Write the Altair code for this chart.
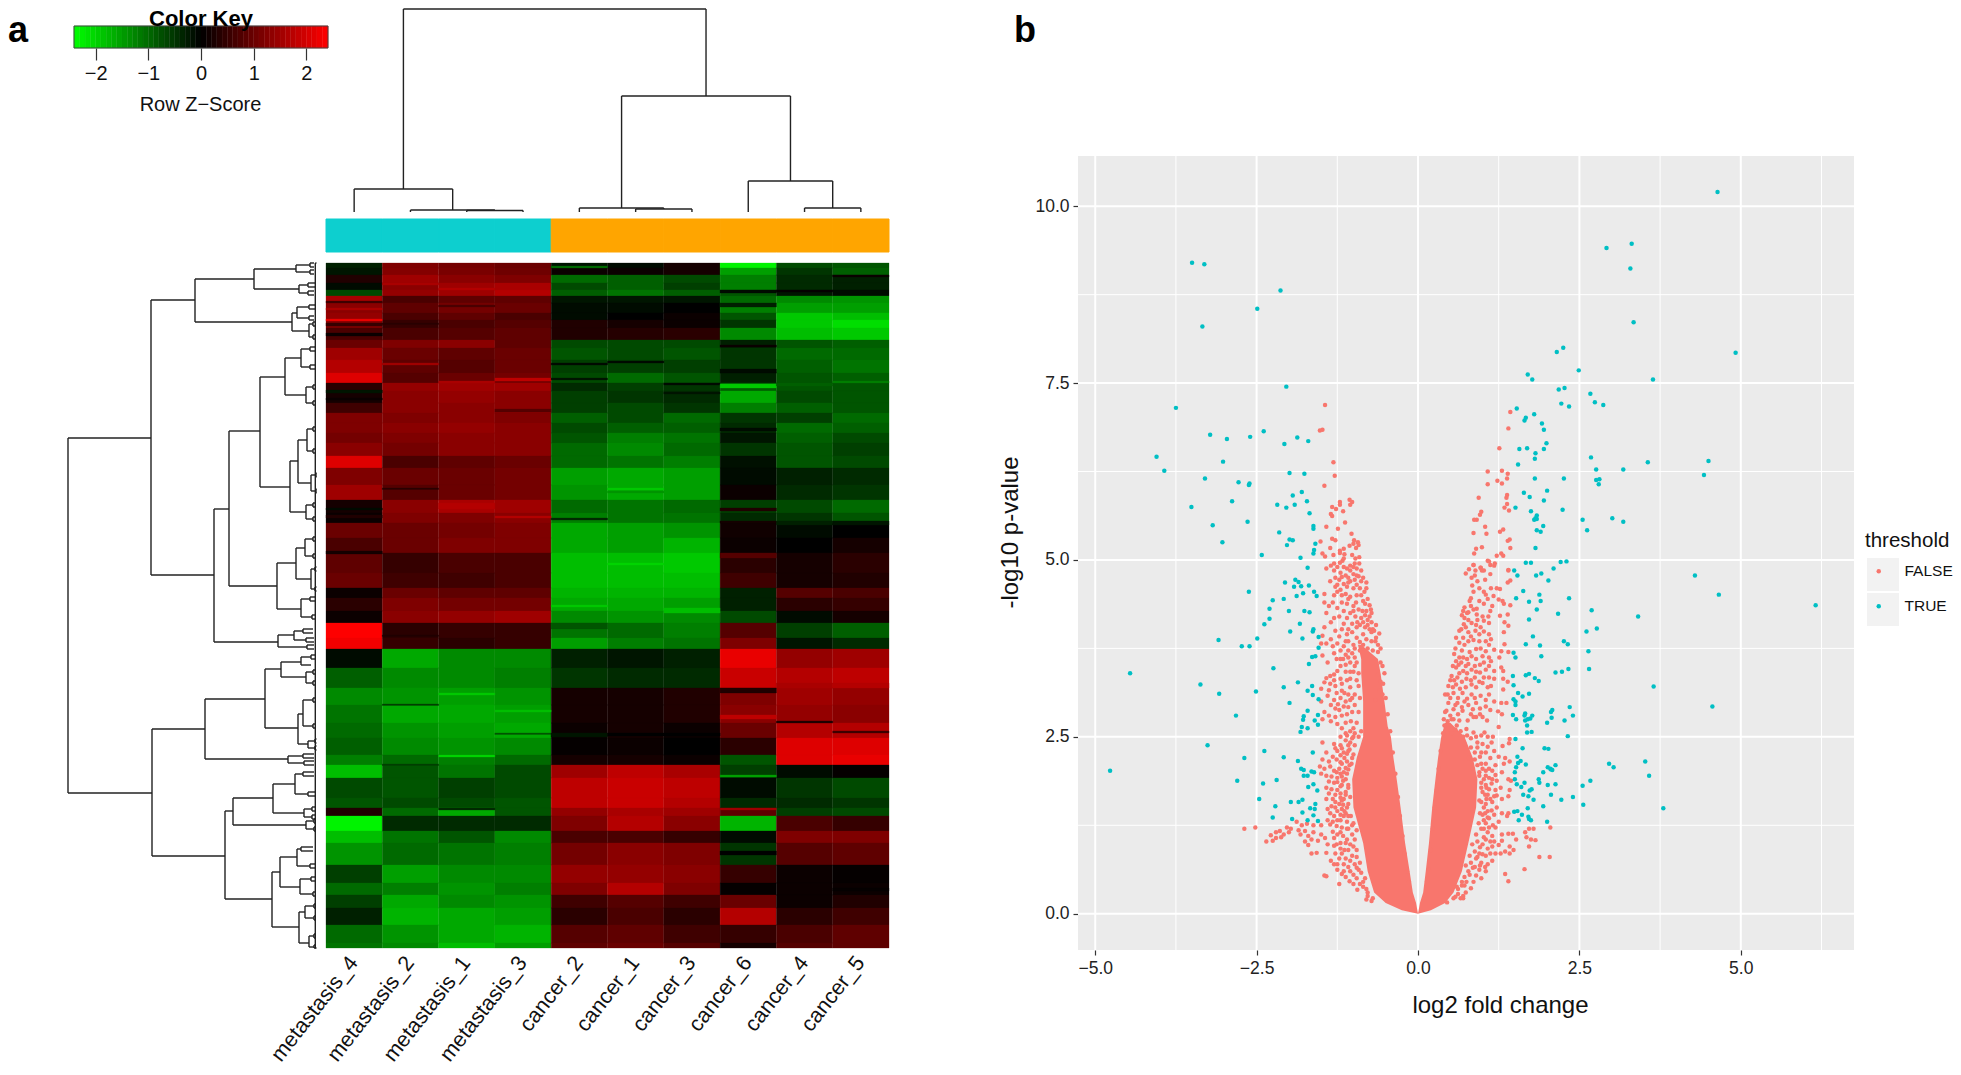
import altair as alt
import pandas as pd

FONT = "Liberation Sans"
SAMPLES = ["metastasis_4","metastasis_2","metastasis_1","metastasis_3","cancer_2","cancer_1","cancer_3","cancer_6","cancer_4","cancer_5"]

ROW_EDGES = [0,5,12,20,27,33,40,50,57,65,77,85,97,110,120,128,140,150,160,170,180,193,205,222,237,250,260,275,290,310,325,335,348,360,375,386,405,425,442,460,475,492,502,515,535,545,553,568,580,602,620,632,645,662,680,685]
HEAT = [
[-.3,1.2,1.1,1.0,-.2,-.1,.2,-2.3,-.7,-.8],
[-.2,1.25,1.15,1.05,.1,.1,.2,-1.5,-.5,-.9],
[.3,1.5,1.3,1.2,-1.0,-.9,-.7,-1.2,-.4,-.3],
[-.1,1.3,1.5,1.6,-.7,-.9,-.6,-1.2,-.4,-.3],
[-.7,1.4,1.5,1.7,-.9,-1.1,-.9,-.8,-.2,-.1],
[1.6,.7,.9,.9,-.2,-.2,-.2,-1.0,-1.3,-1.4],
[1.3,.9,1.1,1.0,-.1,-.1,.0,-1.2,-1.5,-1.5],
[1.4,.7,.9,.7,-.1,.0,.1,-.8,-1.9,-1.8],
[1.2,.5,.7,.8,.3,.2,.1,-.5,-1.9,-2.1],
[.7,.7,.8,.9,.3,.35,.4,-1.3,-1.8,-1.9],
[1.0,1.2,1.3,.9,-.7,-.7,-.7,-.3,-.8,-.9],
[1.5,1.0,.9,1.0,-.8,-.7,-.8,-.5,-1.0,-1.0],
[1.7,.9,.8,1.0,-.6,-.6,-.6,-.5,-.9,-1.1],
[2.1,.8,1.0,1.1,-.7,-1.0,-.8,-.3,-.8,-.9],
[.4,1.4,1.5,1.5,-.4,-.6,-.5,-.9,-.8,-.8],
[.2,1.3,1.4,1.3,-.6,-.5,-.4,-1.6,-.7,-.8],
[.6,1.3,1.3,1.3,-.6,-.7,-.5,-1.2,-.9,-.8],
[1.2,1.2,1.3,1.2,-.9,-.7,-1.0,-.5,-.6,-1.0],
[1.2,1.3,1.4,1.3,-.7,-.9,-.9,-.4,-1.0,-.9],
[1.1,1.2,1.3,1.3,-.8,-1.2,-1.1,-.2,-.9,-.7],
[1.3,1.1,1.3,1.3,-1.0,-1.3,-1.0,-.5,-.8,-.6],
[2.1,.7,.9,1.0,-1.0,-1.1,-1.2,-.15,-.8,-.7],
[1.2,1.0,1.0,1.1,-1.5,-1.6,-1.5,-.1,-.3,-.4],
[1.5,.8,1.0,1.1,-1.4,-1.6,-1.5,.1,-.4,-.5],
[.2,1.3,1.6,1.5,-1.0,-1.1,-1.0,-.6,-.7,-1.0],
[.1,1.2,1.2,1.3,-1.2,-1.1,-1.1,-.4,-.5,-.8],
[1.0,1.0,1.1,1.2,-1.6,-1.5,-1.4,.15,-.1,-.0],
[.7,1.0,1.2,1.2,-1.6,-1.5,-1.7,.1,.0,.2],
[.9,.5,.7,.7,-1.8,-1.8,-1.9,.4,.2,.4],
[1.0,.6,.6,.7,-1.8,-1.8,-1.8,.6,.2,.3],
[.1,1.0,.9,.9,-1.7,-1.7,-1.7,-.3,.8,.7],
[.4,1.2,1.1,1.1,-1.6,-1.6,-1.5,-.3,.4,.5],
[.1,1.3,1.4,1.5,-1.3,-1.4,-1.3,-.7,-.1,.2],
[2.4,.4,.5,.5,-1.1,-1.0,-1.2,.8,-.6,-.9],
[2.3,.5,.4,.5,-1.5,-1.2,-1.1,1.2,-.2,-.4],
[-.1,-1.6,-1.3,-1.3,-.3,-.2,-.3,2.2,1.4,1.5],
[-.9,-1.3,-1.3,-1.2,-.5,-.4,-.4,1.9,1.7,1.8],
[-1.3,-1.4,-1.5,-1.4,.2,.2,.3,1.2,1.5,1.4],
[-1.1,-1.6,-1.6,-1.5,.2,.2,.3,1.3,1.4,1.3],
[-1.0,-1.4,-1.5,-1.6,.1,.2,.1,1.0,1.7,1.7],
[-.9,-1.3,-1.4,-1.3,.05,.1,.0,.4,2.1,2.1],
[-1.2,-1.0,-1.2,-1.0,.2,.2,.1,-.8,2.1,2.2],
[-1.8,-.8,-1.1,-.7,1.5,1.8,1.6,-.6,-.1,.05],
[-.7,-.8,-.6,-.7,1.8,1.9,1.8,-.1,-.5,-.7],
[-.8,-.7,-.7,-.8,1.8,1.9,1.7,-.4,-.4,-.5],
[.3,-1.0,-1.6,-.8,1.4,1.6,1.5,.9,-.6,-.7],
[-2.3,-.4,-.4,-.4,1.2,1.7,1.3,-1.7,.7,.5],
[-1.8,-1.1,-.8,-1.3,.7,.7,.5,-.1,1.2,1.2],
[-1.4,-1.0,-1.1,-1.2,1.1,1.3,1.2,-.5,.8,.9],
[-.6,-1.5,-1.3,-1.3,1.4,1.4,1.3,.5,.1,.05],
[-1.0,-1.2,-1.4,-1.2,1.2,1.7,1.2,.05,.1,.1],
[-.6,-1.6,-1.3,-1.4,.6,.8,.6,1.0,.1,.3],
[-.3,-1.7,-1.6,-1.5,.4,.7,.4,1.7,.4,.6],
[-1.0,-1.4,-1.6,-1.7,.8,.9,.6,.5,.7,.9],
[-1.1,-1.3,-1.8,-1.5,.9,1.0,.8,.2,.8,.9],
]
STRIPES = [
(0,38,40,.6),(0,45,47,1.6),(0,56,58,2.2),(0,60,63,.5),(0,70,73,.1),(0,127,130,-.2),(0,135,137,.1),(0,245,247,-.1),(0,252,255,.3),(0,288,291,.2),
(1,20,22,1.6),(1,60,61.5,.4),(1,100,102,1.5),(1,225,226.5,.4),(1,372,373.5,.3),(1,441,442.5,-.6),(1,501,502.5,-.6),
(2,25,27,1.7),(2,42,44,.7),(2,118,120,1.6),(2,240,246,1.7),(2,430,432,-1.9),(2,492,494,-2.0),(2,545,547,-.4),
(3,115,118,1.8),(3,146,149,.8),(3,253,255,1.7),(3,447,449,-1.8),(3,470,471.5,-.8),
(4,3,5,-1.0),(4,100,102,-.1),(4,115,117,-.2),(4,255,257,-.4),(4,342,344,-1.9),(4,360,366,-.8),(4,470,474,-.2),
(5,98,100,-.1),(5,225,227,-1.9),(5,228,230,-1.4),(5,300,302,-2.0),(5,470,473,-.0),
(6,120,122,-.1),(6,129,131,-.2),(6,470,473,.0),(6,345,350,-1.8),
(7,27,30,-.1),(7,40,44,-.3),(7,82,84,.1),(7,106,110,-.1),(7,121,125,-1.9),(7,165,168,-.1),(7,245,248,.3),(7,258,260,.2),(7,290,295,.8),(7,425,430,.3),(7,452,456,1.8),(7,512,514,-1.5),(7,545,547,1.5),(7,588,592,.0),
(8,27,29,.05),(8,120,123,-.9),(8,258,262,-.3),(8,420,425,1.6),(8,458,460,.3),
(9,12,14,.1),(9,118,120,-1.2),(9,258,262,-.2),(9,420,425,1.7),(9,468,470,.6),(9,625,628,.05),
]
KEY_EDGES = [-2.41,-2.3,-2.2,-2.1,-2.0,-1.9,-1.8,-1.7,-1.6,-1.5,-1.4,-1.3,-1.2,-1.1,-1.0,-.9,-.8,-.7,-.6,-.5,-.4,-.3,-.2,-.1,0,.1,.2,.3,.4,.5,.6,.7,.8,.9,1.0,1.1,1.2,1.3,1.4,1.5,1.6,1.7,1.8,1.9,2.0,2.1,2.2,2.3,2.41]

COL_FORKS = [
(1.375,6.75,203,23,116),
(0.5,2.25,23,0,2),
(1.5,3,2,0,1.5),
(2.5,3.5,1.5,0,0),
(5.25,8.25,116,4,31),
(4.5,6,4,0,3),
(5.5,6.5,3,0,0),
(7.5,9,31,0,4),
(8.5,9.5,4,0,0),
]
ROW_FORKS = [
(0,175,530,83,84),(83,37,312,127,146),(127,16,59,186,224),(186,6,26,228,231),(228,2,9,242,242),(231,22,30,240,240),
(224,50,68,229,241),(229,44,55,241,241),(241,61,74,245,245),(146,246,379,161,210),(161,168,323,192,209),
(192,114,224,217,222),(217,95,132,233,238),(233,86,104,242,242),(238,124,140,245,245),(222,198,249,230,238),
(230,177,220,239,243),(239,166,188,245,245),(238,242,256,245,245),(243,212,228,248,248),(209,300,346,228,233),
(228,285,316,237,243),(237,276,293,245,245),(243,306,326,247,247),(233,336,354,242,244),(210,372,384,226,239),
(226,368,377,235,238),(84,466,593,137,157),(137,436,496,197,220),(197,406,465,213,230),(213,399,414,233,238),
(233,394,402,243,243),(238,409,420,245,245),(230,451,481,235,240),(235,437,463,245,245),(240,478,485,247,247),
(220,493,500,235,236),(157,548,636,165,204),(165,535,562,205,238),(205,521,550,227,236),(227,511,531,235,240),
(236,546,554,244,244),(238,558,566,246,246),(204,609,664,212,231),(212,594,624,229,232),(229,586,603,233,242),
(232,616,631,243,245),(231,649,680,237,241),(237,643,655,246,246),(241,673,684,246,246),
(242,0,4,246,246),(242,7,11,246,246),(240,20,24,247,247),(240,28,32,246,246),(241,42,46,247,247),(241,53,57,246,246),
(245,59,63,247,247),(245,72,76,247,247),(242,84,88,247,247),(242,102,106,247,247),(245,122,126,247,247),(245,138,142,247,247),
(245,164,168,247,247),(245,186,190,247,247),(245,240,244,247,247),(245,254,258,247,247),(248,210,214,248.5,248.5),(248,226,230,248.5,248.5),
(245,274,278,247,247),(245,291,295,247,247),(247,304,308,248.5,248.5),(247,324,328,248.5,248.5),(242,334,338,247,247),(244,352,356,247,247),
(235,366,370,245,245),(238,375,379,246,246),(239,382,386,246,246),(243,392,396,247,247),(245,407,411,247,247),(245,418,422,247,247),
(245,435,439,247,247),(245,461,465,247,247),(247,476,480,248.5,248.5),(247,483,487,248.5,248.5),(235,491,495,246,246),(236,498,502,246,246),
(235,509,513,246,246),(240,529,533,247,247),(244,544,548,247,247),(244,552,556,247,247),(246,556,560,248,248),(246,564,568,248,248),
(233,584,588,245,245),(242,601,605,247,247),(243,614,618,247,247),(245,629,633,247,247),(246,641,645,248,248),(246,653,657,248,248),
(246,671,675,248,248),(246,682,685,248,248),(247.3,0,685,248.5,248.5),
]

TEAL = [
(-3.50,9.20),(-3.31,9.18),(-2.13,8.81),(-2.49,8.55),(-3.34,8.30),(-2.04,7.45),(-3.75,7.15),(-3.22,6.77),(-2.96,6.71),(-2.60,6.74),(-2.39,6.82),(-2.07,6.64),(-1.87,6.73),(-1.70,6.68),(-4.05,6.46),(-3.93,6.26),(-3.02,6.39),(-1.99,6.23),(-1.76,6.22),(-3.30,6.15),(-2.78,6.10),(-2.61,6.08),(-2.62,6.06),(-1.94,5.91),(-1.80,5.96),(-2.88,5.83),(-1.72,5.83),(-3.51,5.75),(-2.18,5.78),(-2.04,5.74),(-1.91,5.78),(-1.68,5.66),(-3.18,5.49),(-2.64,5.54),(-2.15,5.39),(-1.62,5.48),(-1.62,5.44),(-1.99,5.29),(-1.94,5.28),(-3.03,5.25),(-1.59,5.23),(-2.03,5.21),(-1.61,5.14),(-1.62,5.09),(-2.42,5.07),(-1.82,5.03),(-1.71,4.89),
(-1.90,4.72),(-1.85,4.69),(-2.06,4.68),(-1.92,4.62),(-1.81,4.63),(-1.69,4.64),(-2.62,4.55),(-1.61,4.55),(-1.78,4.53),(-1.88,4.49),(-1.57,4.49),(-2.25,4.43),(-2.08,4.45),(-2.30,4.31),(-2.00,4.28),(-1.76,4.28),(-1.68,4.26),(-2.30,4.17),(-2.38,4.09),(-1.83,4.10),(-1.98,3.99),(-1.62,4.02),(-1.63,3.99),(-1.54,3.91),(-2.49,3.89),(-3.09,3.87),(-1.79,3.89),(-2.73,3.78),(-2.61,3.78),(-1.54,3.76),(-1.59,3.64),(-1.64,3.63),(-1.69,3.53),(-2.24,3.47),(-4.46,3.40),(-3.37,3.24),(-1.86,3.27),(-2.08,3.20),(-1.64,3.22),(-1.71,3.15),(-3.08,3.11),(-2.51,3.14),(-1.63,3.09),(-1.54,3.03),(-1.99,2.98),(-1.71,2.87),(-2.82,2.80),(-1.77,2.79),(-1.55,2.81),(-1.78,2.74),(-1.60,2.73),(-1.55,2.67),(-1.80,2.64),(-1.71,2.62),(-1.82,2.57),(-3.26,2.38),(-2.38,2.30),(-1.63,2.28),(-2.69,2.20),(-2.08,2.21),(-1.86,2.16),(-1.81,2.05),(-1.77,2.03),(-1.65,2.01),(-1.61,2.00),(-4.77,2.02),(-1.77,1.95),(-1.71,1.95),(-2.80,1.88),(-2.19,1.89),(-2.40,1.84),(-1.62,1.83),(-1.70,1.79),(-1.56,1.74),(-2.46,1.62),(-1.97,1.58),(-1.85,1.58),(-1.79,1.61),(-2.21,1.52),(-1.59,1.55),(-1.67,1.49),(-1.60,1.48),(-1.79,1.43),(-1.62,1.39),(-2.25,1.36),(-1.95,1.34),(-1.71,1.32),(-1.55,1.31),
(4.64,10.20),(3.31,9.47),(2.92,9.41),(3.29,9.12),(3.34,8.36),(4.92,7.93),(2.25,8.00),(2.15,7.94),(2.49,7.68),(1.70,7.62),(1.77,7.55),(3.64,7.55),(2.18,7.41),(2.27,7.43),(2.67,7.35),(2.74,7.23),(2.87,7.19),(2.22,7.21),(2.34,7.17),(1.53,7.14),(1.80,7.06),(1.67,7.01),(1.65,6.97),(1.92,6.93),(1.95,6.84),(1.99,6.65),(1.95,6.57),(1.69,6.58),(1.57,6.57),(1.82,6.51),(1.81,6.43),(1.55,6.35),(2.68,6.45),(3.56,6.38),(4.50,6.40),(2.76,6.28),(3.18,6.28),(4.43,6.20),(1.81,6.15),(2.26,6.15),(2.76,6.13),(2.81,6.14),(2.80,6.07),(2.00,5.98),(1.64,5.95),(1.73,5.89),(1.95,5.84),(1.51,5.74),(2.24,5.71),(1.75,5.69),(1.84,5.63),(1.82,5.59),(1.80,5.57),(1.84,5.58),(2.55,5.57),(3.01,5.59),(3.18,5.54),(1.94,5.48),(1.84,5.42),(1.90,5.40),(2.62,5.42),(1.82,5.17),(1.67,4.96),(1.75,4.96),(2.21,4.97),(2.30,4.98),(2.10,4.88),
(1.49,4.85),(1.54,4.78),(1.83,4.78),(1.91,4.81),(2.02,4.71),(4.29,4.78),(4.66,4.51),(1.63,4.56),(1.88,4.51),(2.34,4.46),(1.52,4.46),(1.72,4.41),(1.90,4.42),(1.84,4.30),(2.69,4.29),(2.17,4.24),(6.16,4.36),(3.41,4.20),(1.72,4.16),(2.77,4.03),(2.61,3.99),(1.78,3.92),(2.26,3.85),(2.32,3.81),(1.67,3.81),(1.89,3.79),(2.64,3.71),(1.48,3.69),(1.51,3.62),(1.91,3.64),(2.33,3.46),(2.65,3.46),(2.13,3.41),(2.23,3.42),(1.67,3.37),(1.72,3.39),(1.47,3.36),(1.81,3.33),(1.87,3.29),(1.48,3.23),(3.65,3.21),(1.55,3.12),(1.72,3.11),(1.62,3.07),(1.48,3.03),(1.51,3.00),(1.51,2.95),(4.56,2.93),(2.35,2.92),(2.08,2.88),(2.06,2.85),(2.40,2.80),(1.47,2.81),(1.66,2.83),(1.77,2.80),(1.65,2.80),(1.74,2.76),(1.70,2.75),(1.66,2.73),(1.52,2.75),(2.07,2.77),(2.27,2.73),(2.00,2.70),(1.69,2.66),(1.69,2.56),(1.76,2.57),(2.32,2.51),(1.51,2.47),(1.62,2.34),(1.96,2.34),(2.02,2.33),(1.54,2.22),(1.59,2.16),(1.55,2.13),(3.52,2.15),(2.96,2.12),(3.03,2.07),(1.67,2.11),(2.13,2.10),(1.52,2.07),(2.01,2.07),(2.05,2.05),(2.08,2.03),(2.06,2.04),(1.50,2.00),(1.94,2.00),(3.58,1.95),(1.87,1.90),(1.50,1.90),(2.67,1.88),(1.53,1.83),(1.65,1.85),(1.88,1.85),(2.01,1.82),(2.13,1.83),(2.55,1.81),(1.60,1.79),(1.76,1.76),(1.73,1.74),(1.63,1.68),(1.71,1.66),(2.06,1.68),(2.40,1.65),(1.79,1.61),(2.22,1.61),(2.56,1.54),(1.94,1.52),(1.70,1.49),(3.80,1.49),(1.49,1.44),(1.54,1.45),(1.61,1.40),(1.71,1.37),(1.72,1.34),(1.75,1.32),(1.56,1.32),(2.00,1.30),
]
RED_LEFT = [
(-1.44,7.19),(-1.52,6.83),(-1.48,6.84),(-1.31,6.38),(-1.29,6.19),(-1.45,6.05),(-1.06,5.85),(-1.02,5.82),(-1.05,5.78),(-1.21,5.82),(-1.21,5.78),(-1.33,5.75),(-1.27,5.72),(-1.16,5.69),(-1.35,5.65),(-1.33,5.62),(-1.13,5.53),(-1.42,5.47),(-1.24,5.44),(-1.03,5.37),(-1.33,5.30),(-1.28,5.28),(-1.51,5.26),(-.99,5.28),(-.93,5.25),(-1.00,5.23),(-.92,5.21),(-1.36,5.17),(-1.15,5.16),(-1.21,5.13),(-1.06,5.20),(-.96,5.17),(-1.48,5.09),(-1.44,5.05),(-1.31,5.07),(-1.21,5.10),(-1.14,5.08),(-1.02,5.07),(-.91,5.04),(-.97,5.02),(-1.15,5.02),(-1.17,4.99),(-1.21,4.96),(-1.30,4.95),(-1.35,4.92),(-1.05,4.92),(-.98,4.95),(-.91,4.95),
(-1.42,4.88),(-1.30,4.85),(-1.15,4.9),(-1.05,4.85),(-.95,4.88),(-1.2,4.82),(-1.12,4.78),(-1.0,4.8),(-.92,4.77),(-1.36,4.7),(-1.22,4.72),(-1.15,4.66),(-1.05,4.7),(-.98,4.72),(-.88,4.7),(-.8,4.68),(-1.28,4.62),(-1.2,4.58),(-1.1,4.62),(-1.0,4.6),(-.9,4.6),(-.83,4.55),(-1.45,4.52),(-1.3,4.5),(-1.18,4.5),(-1.05,4.48),
(-.95,4.5),(-.85,4.42),(-1.45,4.4),(-1.38,4.35),(-1.25,4.32),(-1.1,4.38),(-1.0,4.35),(-.92,4.3),(-.8,4.28),(-.73,4.3),(-1.42,4.25),(-1.22,4.2),(-1.05,4.25),(-.97,4.2),(-.88,4.18),(-.78,4.15),(-1.35,4.12),(-1.15,4.1),(-1.02,4.1),(-.9,4.08),(-.82,4.05),(-.7,4.02),(-1.45,4.05),(-1.28,4.0),
(-1.48,3.93),(-1.35,3.88),(-1.22,3.92),(-1.1,3.95),(-1.02,3.98),(-.95,3.9),(-.85,3.95),(-.72,3.98),(-.65,3.9),(-1.5,3.82),(-1.42,3.82),(-1.25,3.82),(-1.12,3.85),(-1.0,3.8),(-.62,3.8),(-.58,3.75),(-1.2,3.72),(-1.08,3.72),(-1.02,3.68),(-.98,3.62),(-1.26,3.6),(-1.16,3.6),(-1.05,3.55),(-1.48,3.65),(-1.12,3.52),(-.98,3.5),(-1.0,3.42),(-1.2,3.5),(-1.4,3.55),(-.55,3.5),(-.52,3.4),
(-1.25,3.43),(-1.3,3.38),(-1.36,3.36),(-1.42,3.33),(-1.3,3.3),(-1.2,3.32),(-1.45,3.27),(-1.36,3.25),(-1.28,3.22),(-1.18,3.25),(-1.1,3.3),(-1.05,3.2),(-1.5,3.18),(-1.38,3.16),(-1.26,3.12),(-1.18,3.15),(-1.08,3.1),(-1.02,3.05),(-1.5,3.0),(-1.12,3.0),(-1.15,2.93),(-1.35,2.95),(-1.28,2.9),(-1.22,2.88),(-1.08,2.92),(-1.45,2.85),(-1.38,2.8),(-1.28,2.78),(-1.18,2.8),(-1.1,2.82),(-1.48,2.75),(-1.35,2.72),(-1.25,2.68),(-1.12,2.7),(-1.04,2.72),(-1.18,2.62),(-1.12,2.55),(-1.05,2.58),(-1.0,2.62),(-.95,2.7),(-.92,2.85),(-.98,3.1),
(-1.48,2.42),(-1.3,2.4),(-1.2,2.38),(-1.12,2.45),(-1.05,2.42),(-1.0,2.5),(-1.42,2.28),(-1.25,2.3),(-1.15,2.28),(-1.06,2.32),(-1.0,2.25),(-1.48,2.18),(-1.38,2.15),(-1.26,2.18),(-1.18,2.12),(-1.1,2.15),(-1.03,2.12),(-1.52,2.08),(-1.45,2.05),(-1.36,2.08),(-1.3,2.02),(-1.22,2.05),(-1.15,2.0),(-1.08,2.04),(-1.5,1.98),(-1.42,1.95),(-1.25,1.92),(-1.12,1.9),(-1.38,1.87),(-1.3,1.85),(-1.18,1.82),(-1.08,1.82),(-1.42,1.78),(-1.25,1.75),(-1.12,1.72),(-1.38,1.7),(-1.15,1.62),(-1.05,1.65),(-1.32,1.62),(-1.42,1.62),(-1.28,1.58),(-1.22,1.55),(-1.34,1.52),(-1.4,1.48),(-1.25,1.45),(-1.18,1.48),(-1.1,1.5),(-1.15,1.38),(-1.3,1.38),(-1.4,1.32),(-1.25,1.32),(-1.08,1.38),
(-2.69,1.2),(-2.52,1.22),(-1.5,1.25),(-1.62,1.25),(-1.72,1.27),(-1.8,1.25),(-1.88,1.3),(-1.97,1.2),(-2.03,1.22),(-2.14,1.17),(-2.2,1.15),(-2.28,1.11),(-2.08,1.12),(-2.0,1.15),(-2.12,1.08),(-2.2,1.07),(-2.35,1.02),(-2.25,1.03),(-1.85,1.18),(-1.75,1.17),(-1.82,1.12),(-1.7,1.1),(-1.62,1.15),(-1.5,1.12),(-1.44,1.07),(-1.3,1.07),(-1.2,1.15),(-1.1,1.2),(-1.02,1.25),(-1.75,1.02),(-1.7,.97),(-1.65,1.05),(-1.55,1.03),(-1.4,.98),(-1.3,.96),(-1.2,1.0),(-1.1,1.05),(-1.65,.85),(-1.57,.86),(-1.42,.86),(-1.28,.85),(-1.18,.85),(-1.08,.9),(-1.0,.95),(-1.35,.75),(-1.22,.78),(-1.3,.7),(-1.15,.7),(-1.05,.75),(-.95,.8),(-1.25,.62),(-1.15,.6),(-1.05,.6),(-.95,.65),(-1.45,.54),(-1.42,.53),(-1.22,.42),(-.85,.45),(-.95,.5),(-.8,.35),(-.78,.25),(-.8,.2),(-.72,.18),
(-.7,.22),(-.78,.3),(-.85,.38),(-.9,.42),(-.82,.5),(-.88,.58),(-.92,.62),(-.98,.7),(-.9,.72),(-1.02,.82),(-.95,.9),(-1.05,.98),(-.98,1.05),(-1.02,1.12),(-1.08,1.2),(-.95,1.18),(-1.0,1.28),(-1.1,1.3),(-1.04,1.38),(-1.14,1.45),(-1.08,1.55),(-1.18,1.6),(-1.12,1.68),(-1.2,1.7),(-1.08,1.78),(-1.16,1.88),(-1.1,1.98),(-1.2,1.98),(-1.06,2.1),(-1.14,2.2),(-1.02,2.2),(-1.08,2.3),(-.98,2.38),(-1.02,2.48),(-.92,2.5),(-.88,2.58),
(-.55,3.1),(-.6,3.15),(-.66,3.02),(-.58,3.28),(-.62,3.38),(-.92,3.22),(-.95,3.3),(-.9,3.05),(-.92,3.4),(-.95,3.55),(-.9,3.72),(-.85,3.8),(-.78,3.75),(-.7,3.72),(-.72,3.85),(-.8,3.88),(-.9,3.84),(-.98,3.75),(-1.08,3.85),(-1.15,3.78),(-1.32,3.78),(-1.3,3.68),(-1.12,3.66),(-1.08,3.62),(-1.2,3.6),(-1.05,3.42),(-1.12,3.42),(-1.05,3.32),(-1.14,3.12),(-1.2,3.05),(-1.05,3.02),(-1.4,3.08),(-1.3,3.02),(-1.24,2.96),(-.98,2.95),(-1.02,2.85),
(-.6,3.96),(-.68,4.0),(-.75,4.02),(-.65,4.08),(-.72,4.12),(-.78,4.08),(-.85,4.12),(-.95,4.05),(-1.08,4.02),(-1.18,4.02),(-.75,4.2),(-.82,4.22),(-.94,4.12),(-1.1,4.18),(-1.3,4.18),(-.72,4.25),(-.86,4.28),(-1.0,4.28),(-1.15,4.28),(-.75,4.36),(-.82,4.38),(-.96,4.4),(-1.08,4.45),(-1.18,4.4),(-1.32,4.4),(-.78,4.45),(-.88,4.5),(-1.12,4.52),(-1.25,4.55),(-.8,4.6),(-.95,4.65),(-1.08,4.68),(-1.25,4.65),(-.85,4.75),(-.95,4.78),(-1.08,4.75),(-1.18,4.76),(-1.28,4.75),(-.88,4.85),(-1.0,4.9),(-1.1,4.88),(-1.25,4.9),
(-.94,.34),(-1.0,.42),(-1.06,.46),(-1.12,.52),(-1.0,.55),(-1.08,.66),(-1.18,.56),(-1.12,.78),(-1.25,.7),(-1.14,.9),(-1.2,.92),(-1.26,.98),(-1.12,1.0),(-1.16,1.1),(-1.25,1.12),(-1.32,1.16),(-1.18,1.22),(-1.26,1.24),(-1.36,1.26),(-1.2,1.32),(-1.32,1.3),(-1.12,1.42),(-1.2,1.4),(-1.36,1.42),(-1.28,1.5),(-1.16,1.54),(-1.2,1.64),(-1.28,1.68),(-1.34,1.76),(-1.2,1.8),(-1.25,1.86),(-1.34,1.94),(-1.18,1.94),(-1.26,2.0),(-1.12,2.06),(-1.2,2.14),(-1.32,2.22),(-1.1,2.26),(-1.2,2.24),(-1.18,2.34),(-1.08,2.38),(-1.28,2.34),(-1.1,2.52),(-1.2,2.5),(-.98,2.55),
(-.14,.45),(-.17,.6),(-.21,.85),(-.24,1.1),(-.28,1.38),(-.31,1.65),(-.35,1.98),(-.39,2.28),(-.43,2.58),(-.47,2.82),(-.5,3.05),(-.54,3.25),(-.58,3.55),(-.62,3.7),(-.66,3.85),
]
RED_RIGHT = [
(1.43,7.09),(1.40,6.86),(1.26,6.58),(1.08,6.25),(1.30,6.26),(1.39,6.22),(1.23,6.12),(1.38,6.15),(1.30,6.08),(1.08,6.07),(1.38,5.92),(1.37,5.88),(.94,5.88),(1.38,5.79),(1.34,5.74),(1.41,5.70),(.98,5.68),(.96,5.64),(.91,5.57),(.87,5.57),(1.04,5.47),(1.32,5.43),(1.27,5.40),(.86,5.38),(1.06,5.37),(1.42,5.29),(1.39,5.27),(.99,5.18),(1.43,5.17),(.90,5.16),(.87,5.09),(1.29,5.09),(1.32,5.06),(1.22,5.06),(1.08,4.99),(1.10,4.98),(1.12,4.93),(1.19,4.95),(1.18,4.92),(.86,4.93),(.79,4.87),(.97,4.89),(.89,4.85),(.99,4.85),(1.40,4.86),
(.86,4.93),(.97,4.89),(1.02,4.85),(1.12,4.8),(.74,4.81),(.83,4.75),(.88,4.78),(1.4,4.85),(1.43,4.71),(1.39,4.68),(.84,4.64),(1.13,4.6),(1.22,4.6),(1.27,4.59),(1.02,4.55),(1.05,4.51),(1.17,4.49),(1.25,4.44),(1.31,4.42),(.82,4.46),(1.33,4.38),(1.43,4.36),(.72,4.33),(.82,4.35),(.91,4.31),(1.02,4.38),(1.15,4.35),(.78,4.26),(.68,4.22),(.91,4.23),(1.09,4.2),(1.27,4.21),(1.39,4.23),(1.34,4.12),(1.4,4.07),(.72,4.18),(.83,4.11),(.71,4.09),(1.02,4.14),(1.1,4.11),(.67,4.02),(.59,3.9),(.78,3.98),(.89,4.0),(1.02,3.99),(1.33,3.98),(1.13,3.88),(1.34,3.81),(.64,3.83),(.78,3.85),(.86,3.87),(.97,3.75),(1.05,3.71),(1.18,3.73),(1.29,3.71),(1.4,3.7),
(.56,3.67),(.7,3.62),(.83,3.64),(1.0,3.64),(1.13,3.57),(1.26,3.62),(.59,3.57),(.67,3.55),(.78,3.53),(1.02,3.55),(1.29,3.48),(.59,3.48),(.7,3.43),(.83,3.45),(.96,3.41),(1.18,3.43),(1.32,3.43),(.52,3.36),(.61,3.34),(.75,3.32),(.88,3.34),(1.02,3.34),(1.18,3.32),(1.32,3.32),(1.39,3.28),(.47,3.22),(.59,3.24),(.83,3.24),(1.0,3.26),(1.13,3.22),(1.32,3.17),(.42,3.1),(.55,3.12),(.69,3.12),(.83,3.1),(1.1,3.1),(1.18,3.0),(1.29,2.98),(1.37,2.98),(.47,2.98),(.61,2.98),(.72,3.0),(.9,2.98),(1.05,2.93),(1.12,2.88),(.44,2.87),(.55,2.89),(.69,2.87),(.85,2.89),(.96,2.82),(1.24,2.86),(1.3,2.82),(.4,2.75),(.52,2.75),(.64,2.73),(.77,2.73),(.9,2.78),(1.07,2.73),(1.25,2.64),(1.41,2.41),(1.42,2.47),(.41,2.66),(.6,2.66),(.75,2.61),(.86,2.56),(1.03,2.56),(1.16,2.5),(1.31,2.37),
(.72,2.4),(.82,2.35),(.92,2.42),(1.05,2.28),(1.25,2.22),(1.35,2.2),(1.42,2.15),(.78,2.2),(.88,2.18),(.98,2.12),(1.1,2.05),(1.3,2.0),(1.33,2.12),(.85,2.05),(.95,2.0),(1.05,1.95),(1.15,1.9),(1.22,1.88),(1.4,1.9),(1.44,1.88),(.98,1.85),(1.05,1.82),(1.2,1.75),(1.28,1.78),(1.42,1.75),(1.0,1.72),(1.08,1.68),(1.22,1.67),(1.3,1.62),(1.4,1.66),(.95,1.6),(1.05,1.55),(1.15,1.58),(1.22,1.5),(1.08,1.45),(1.18,1.4),(1.3,1.42),(1.38,1.38),(1.4,1.42),(1.0,1.4),(1.1,1.35),(1.25,1.3),(1.05,1.28),(1.2,1.22),(1.72,1.2),(1.79,1.2),(2.05,1.22),(1.66,1.15),(1.4,1.13),(1.47,1.13),(1.3,1.12),(1.08,1.15),(1.15,1.1),(1.68,1.08),(1.75,1.05),(1.82,1.04),(1.52,1.05),(1.3,1.03),(1.05,1.05),(1.0,.98),(1.15,.95),(1.25,.97),(1.42,.95),(1.72,.95),(1.35,.88),(1.28,.85),(1.2,.85),(1.48,.9),(1.42,.85),(1.88,.8),(2.04,.8),(1.05,.82),(.95,.85),(1.15,.75),(1.08,.7),(.98,.72),(.9,.78),(.85,.65),(.95,.62),(1.05,.6),(1.65,.63),(1.35,.56),(1.4,.46),(.8,.55),(.75,.45),(.68,.4),(.62,.35),(.7,.25),(.58,.24),(.7,.22),
(.45,.16),(.55,.22),(.62,.28),(.6,.38),(.68,.45),(.72,.52),(.78,.6),(.74,.68),(.82,.72),(.8,.82),(.88,.88),(.84,.98),(.92,1.02),(.9,1.12),(.98,1.2),(.94,1.28),(1.02,1.32),(.96,1.42),(1.02,1.5),(.98,1.58),(1.04,1.68),(.98,1.78),(1.02,1.9),(.95,1.95),(1.0,2.05),(.92,2.1),(.96,2.22),(.88,2.28),(.92,2.35),(.82,2.48),(.76,2.52),(.7,2.5),(.66,2.58),(.58,2.6),(.52,2.55),
(.46,2.72),(.55,2.75),(.62,2.82),(.5,2.8),(.58,2.95),(.68,2.92),(.78,2.95),(.82,2.82),(.86,2.78),(.96,2.9),(1.0,2.78),(.5,3.05),(.62,3.05),(.76,3.04),(.88,3.05),(.97,3.08),(1.05,3.02),(.54,3.2),(.65,3.18),(.74,3.2),(.9,3.2),(1.08,3.2),(.56,3.3),(.68,3.28),(.82,3.3),(.95,3.28),(1.1,3.34),(.64,3.4),(.76,3.4),(.9,3.42),(1.05,3.45),(.63,3.52),(.74,3.5),(.88,3.5),(.96,3.52),(1.1,3.5),(.64,3.62),(.76,3.6),(.9,3.6),(1.1,3.62),(.68,3.72),(.8,3.7),(.9,3.74),(1.1,3.8),(.72,3.8),(.95,3.85),(1.05,3.85),(.7,3.9),(.82,3.92),(.95,3.95),(1.1,3.95),(.74,4.05),(.9,4.08),(.97,4.05),(.78,4.15),(.92,4.15),(1.0,4.2),(.76,4.25),(.86,4.3),(1.12,4.28),(.8,4.42),(.95,4.42),(1.08,4.45),(.86,4.55),(.95,4.6),(.92,4.7),(1.04,4.72),
(.66,.22),(.74,.3),(.82,.36),(.72,.4),(.86,.45),(.9,.54),(.98,.5),(.88,.66),(.96,.68),(1.04,.66),(.92,.8),(1.0,.84),(1.12,.85),(1.08,.92),(.96,.94),(1.02,1.08),(1.12,1.02),(1.18,1.02),(1.1,1.22),(1.02,1.2),(1.16,1.25),(1.08,1.36),(1.14,1.46),(1.04,1.42),(1.12,1.62),(1.06,1.62),(1.18,1.66),(1.1,1.76),(1.14,1.84),(1.06,1.78),(1.2,1.96),(1.1,1.92),(1.05,2.02),(1.15,2.02),(1.2,2.1),(1.05,2.12),(1.12,2.2),(.98,2.28),(1.18,2.3),(1.08,2.36),(1.0,2.4),(1.14,2.42),(.9,2.5),(.98,2.52),(1.08,2.5),
(.14,.45),(.17,.62),(.2,.9),(.23,1.2),(.26,1.5),(.29,1.75),(.32,2.05),(.35,2.3),(.39,2.55),(.42,2.85),(.46,3.1),(.5,3.3),(.54,3.5),(.58,3.75),(.64,4.0),(.7,4.28),
]
MASS_Y = [0,.05,.15,.3,.6,1.0,1.5,1.9,2.2,2.5,2.65,3.0,3.4,3.6,3.8]
MASS_L_OUT = [0,-.25,-.5,-.68,-.78,-.85,-1.0,-1.02,-.95,-.85,-.85,-.85,-.88,-.88,-.93]
MASS_L_IN = [0,-.01,-.03,-.08,-.13,-.2,-.27,-.33,-.38,-.42,-.47,-.52,-.58,-.62,-.88]
MASS_R_Y = [0,.05,.15,.3,.6,1.0,1.5,1.9,2.2,2.5,2.7]
MASS_R_IN = [0,.01,.03,.08,.12,.17,.22,.27,.31,.36,.42]
MASS_R_OUT = [0,.2,.42,.55,.68,.78,.9,.92,.85,.72,.5]
GRID_X_MAJOR = [-5,-2.5,0,2.5,5]
GRID_Y_MAJOR = [0,2.5,5,7.5,10]
GRID_X_MINOR = [-3.75,-1.25,1.25,3.75,6.25]
GRID_Y_MINOR = [1.25,3.75,6.25,8.75]
GROUP_BAR = ["metastasis"]*4 + ["cancer"]*6
X_DOMAIN = [-5.267,6.754]
Y_DOMAIN = [-0.513,10.71]

one = pd.DataFrame({"a":[0]})
zscale = alt.Scale(domain=[-2.41,0,2.41], range=["#00FF00","#000000","#FF0000"], clamp=True, interpolate="rgb")
PANEL_H = 939

# ---- panel 1: colour key and gene dendrogram
kdf = pd.DataFrame({"a":KEY_EDGES[:-1],"b":KEY_EDGES[1:]})
kdf["z"] = (kdf.a+kdf.b)/2
kx = alt.Scale(domain=[-2.524,2.372], nice=False, zero=False)
key_rects = alt.Chart(kdf).mark_rect(strokeWidth=0.4).encode(
    x=alt.X("a:Q", scale=kx, axis=alt.Axis(values=[-2,-1,0,1,2], format="d", title="Row Z\u2212Score", grid=False, domain=False, offset=39-PANEL_H,
        tickSize=12, tickColor="#333333", tickWidth=1.2, labelFont=FONT, labelFontSize=20, labelColor="#111111", labelPadding=3,
        titleFont=FONT, titleFontSize=20, titleFontWeight="normal", titleColor="#111111", titleX=132, titleY=56, titleBaseline="middle", titleAnchor="middle", titleAlign="center")),
    x2="b:Q", y=alt.value(17), y2=alt.value(39),
    color=alt.Color("z:Q", scale=zscale, legend=None), stroke=alt.Stroke("z:Q", scale=zscale, legend=None))
key_edge = alt.Chart(pd.DataFrame({"a":[KEY_EDGES[0]],"b":[KEY_EDGES[-1]]})).mark_rect(fillOpacity=0, stroke="#444444", strokeWidth=1).encode(
    x=alt.X("a:Q", scale=kx, axis=None), x2="b:Q", y=alt.value(17), y2=alt.value(39))
key_title = alt.Chart(one).mark_text(text="Color Key", font=FONT, fontSize=22, fontWeight="bold", color="#000000", align="center", baseline="alphabetic").encode(
    x=alt.value(133), y=alt.value(17.4))
letter_a = alt.Chart(one).mark_text(text="a", font=FONT, fontSize=36, fontWeight="bold", color="#000000", align="left", baseline="alphabetic").encode(
    x=alt.value(-60), y=alt.value(33))

def fork_segments(forks):
    rows = []
    for d, y0, y1, c0, c1 in forks:
        rows.append(dict(x=d, x2=d, y=y0, y2=y1))
        rows.append(dict(x=d, x2=c0, y=y0, y2=y0))
        rows.append(dict(x=d, x2=c1, y=y1, y2=y1))
    return pd.DataFrame(rows)

row_dend = alt.Chart(fork_segments(ROW_FORKS)).mark_rule(color="#222222", strokeWidth=1.4).encode(
    x=alt.X("x:Q", scale=alt.Scale(domain=[0,258], nice=False), axis=None), x2="x2:Q",
    y=alt.Y("y:Q", scale=alt.Scale(domain=[0,685], range=[254,939], nice=False), axis=None), y2="y2:Q")
panel1 = alt.layer(key_rects, key_edge, key_title, letter_a, row_dend).resolve_scale(x="independent", y="independent").properties(width=258, height=PANEL_H)

# ---- panel 2: sample dendrogram, colour bar, heat map
rows = []
for x0, x1, h, h0, h1 in COL_FORKS:
    rows.append(dict(x=x0, x2=x1, y=h, y2=h))
    rows.append(dict(x=x0, x2=x0, y=h, y2=h0))
    rows.append(dict(x=x1, x2=x1, y=h, y2=h1))
col_dend = alt.Chart(pd.DataFrame(rows)).mark_rule(color="#222222", strokeWidth=1.4).encode(
    x=alt.X("x:Q", scale=alt.Scale(domain=[0,10], range=[0,563], nice=False), axis=None), x2="x2:Q",
    y=alt.Y("y:Q", scale=alt.Scale(domain=[0,203], range=[203,0], nice=False), axis=None), y2="y2:Q")
gscale = alt.Scale(domain=["metastasis","cancer"], range=["#0DCFCF","#FFA500"])
bar = alt.Chart(pd.DataFrame({"s":SAMPLES,"g":GROUP_BAR})).mark_rect().encode(
    x=alt.X("s:N", sort=SAMPLES, scale=alt.Scale(range=[0,563],paddingInner=0,paddingOuter=0), axis=None),
    y=alt.value(210), y2=alt.value(243),
    color=alt.Color("g:N", scale=gscale, legend=None), stroke=alt.Stroke("g:N", scale=gscale, legend=None))
recs = []
for r, row in enumerate(HEAT):
    for s, z in zip(SAMPLES, row):
        recs.append(dict(s=s, y=ROW_EDGES[r], y2=ROW_EDGES[r+1], z=z))
for i, a, b, z in STRIPES:
    recs.append(dict(s=SAMPLES[i], y=a, y2=b, z=z))
heat = alt.Chart(pd.DataFrame(recs)).mark_rect(strokeWidth=0.3).encode(
    x=alt.X("s:N", sort=SAMPLES, scale=alt.Scale(range=[0,563],paddingInner=0,paddingOuter=0),
        axis=alt.Axis(title=None, labelAngle=-52, labelAlign="right", labelBaseline="middle", labelFont=FONT, labelFontSize=21.5,
            labelColor="#111111", labelPadding=11, ticks=False, domain=False, labelLimit=400)),
    y=alt.Y("y:Q", scale=alt.Scale(domain=[0,685], range=[254,939], nice=False), axis=None), y2="y2:Q",
    color=alt.Color("z:Q", scale=zscale, legend=None), stroke=alt.Stroke("z:Q", scale=zscale, legend=None))
panel2 = alt.layer(col_dend, bar, heat).resolve_scale(x="independent", y="independent", color="independent", stroke="independent").properties(width=752, height=PANEL_H)

# ---- panel 3: volcano plot
TOP = 147
VH = 941
xs = alt.Scale(domain=X_DOMAIN, nice=False, zero=False)
ys = alt.Scale(domain=Y_DOMAIN, range=[VH,TOP], nice=False, zero=False)
red = RED_LEFT + RED_RIGHT
pts = pd.DataFrame([dict(x=a,y=b,threshold="FALSE") for a,b in red] + [dict(x=a,y=b,threshold="TRUE") for a,b in TEAL])
axis_common = dict(format=".1f", grid=False, domain=False, tickColor="#333333", tickSize=5, tickWidth=1.2, labelFont=FONT, labelFontSize=17.5,
    labelColor="#222222", labelPadding=4, titleFont=FONT, titleFontSize=24, titleFontWeight="normal", titleColor="#111111",
    titleBaseline="middle", titleAnchor="middle", titleAlign="center")
AX_X = alt.Axis(values=GRID_X_MAJOR, title="log2 fold change", titleX=422, titleY=55, **axis_common)
AX_Y = alt.Axis(values=GRID_Y_MAJOR, title="-log10 p-value", titleX=-68, titleY=376+TOP, **axis_common)
def X(f): return alt.X(f+":Q", scale=xs, axis=AX_X)
def Y(f): return alt.Y(f+":Q", scale=ys, axis=AX_Y)
bg = alt.Chart(one).mark_rect(color="#EBEBEB").encode(x=alt.value(0), x2=alt.value(776), y=alt.value(TOP), y2=alt.value(VH))
def vlines(vals, w):
    return alt.Chart(pd.DataFrame({"x":vals,"a":Y_DOMAIN[0],"b":Y_DOMAIN[1]})).mark_rule(color="#FFFFFF", strokeWidth=w).encode(
        x=X("x"), y=Y("a"), y2="b:Q")
def hlines(vals, w):
    return alt.Chart(pd.DataFrame({"y":vals,"a":X_DOMAIN[0],"b":X_DOMAIN[1]})).mark_rule(color="#FFFFFF", strokeWidth=w).encode(
        y=Y("y"), x=X("a"), x2="b:Q")
mass_l = alt.Chart(pd.DataFrame({"y":MASS_Y,"a":MASS_L_OUT,"b":MASS_L_IN})).mark_area(orient="horizontal", color="#F8766D", opacity=1).encode(
    y=Y("y"), x=X("a"), x2="b:Q")
mass_r = alt.Chart(pd.DataFrame({"y":MASS_R_Y,"a":MASS_R_IN,"b":MASS_R_OUT})).mark_area(orient="horizontal", color="#F8766D", opacity=1).encode(
    y=Y("y"), x=X("a"), x2="b:Q")
key_box1 = alt.Chart(one).mark_rect(color="#F2F2F2").encode(x=alt.value(789), x2=alt.value(821), y=alt.value(402+TOP), y2=alt.value(435+TOP))
key_box2 = alt.Chart(one).mark_rect(color="#F2F2F2").encode(x=alt.value(789), x2=alt.value(821), y=alt.value(437+TOP), y2=alt.value(470+TOP))
dots = alt.Chart(pts).mark_circle(size=20, opacity=1).encode(
    x=X("x"), y=Y("y"),
    color=alt.Color("threshold:N", scale=alt.Scale(domain=["FALSE","TRUE"], range=["#F8766D","#00BFC4"]),
        legend=alt.Legend(title="threshold", orient="none", legendX=787, legendY=375+TOP, zindex=1, symbolSize=20, symbolType="circle",
            titleFont=FONT, titleFontSize=20.5, titleFontWeight="normal", titleColor="#111111", titlePadding=12,
            labelFont=FONT, labelFontSize=15.5, labelColor="#111111", rowPadding=18, labelOffset=18, symbolOffset=6)))
letter_b = alt.Chart(one).mark_text(text="b", font=FONT, fontSize=36, fontWeight="bold", color="#000000", align="left", baseline="alphabetic").encode(
    x=alt.value(-64), y=alt.value(33))
panel3 = alt.layer(bg, vlines(GRID_X_MINOR,1), hlines(GRID_Y_MINOR,1), vlines(GRID_X_MAJOR,2), hlines(GRID_Y_MAJOR,2), mass_l, mass_r, key_box1, key_box2, dots, letter_b).properties(width=776, height=VH)

chart = alt.hconcat(panel1, panel2, panel3, spacing=0, bounds="flush").properties(padding=0, background="#FFFFFF").configure_view(stroke=None)
chart.save("out.html", embed_options={"renderer": "svg", "actions": False})
